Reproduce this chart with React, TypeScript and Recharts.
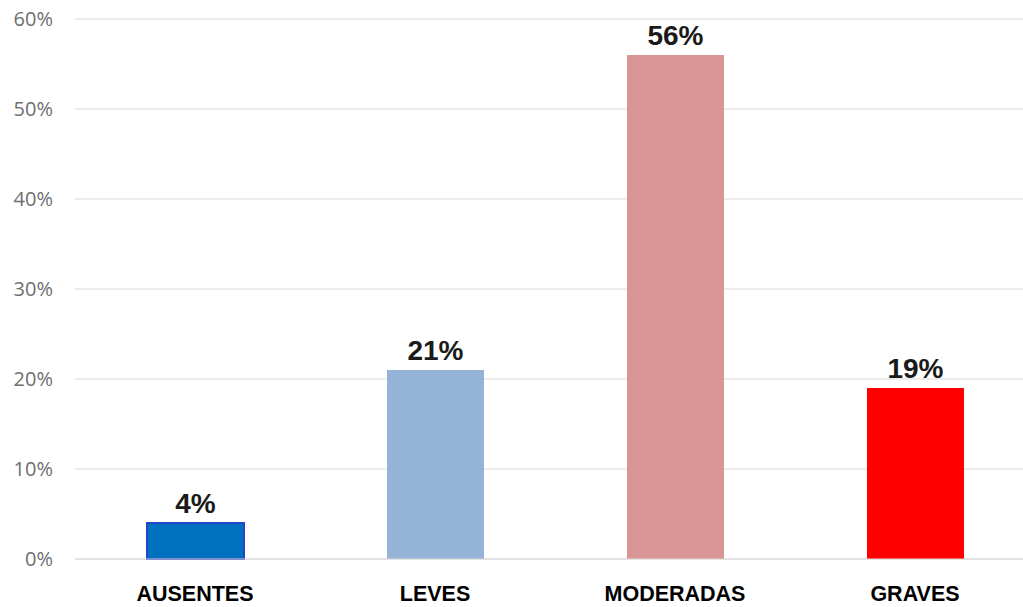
import React from "react";
import { BarChart, Bar, XAxis, YAxis, CartesianGrid, Cell, LabelList } from "recharts";

const categories = ["AUSENTES", "LEVES", "MODERADAS", "GRAVES"];
const values = [4, 21, 56, 19];
const colors = ["#0070C0", "#95B3D7", "#DA9694", "#FF0000"];
const strokes = ["#2346C8", "none", "none", "none"];
const yTicks = [0, 10, 20, 30, 40, 50, 60];

const data = categories.map((name, i) => ({ name, value: values[i] }));

const FONT = "'Liberation Sans', Arial, sans-serif";

export default function App() {
  return (
    <div
      style={{
        position: "fixed",
        left: 0,
        top: 0,
        width: 1023,
        height: 607,
        overflow: "hidden",
        background: "#fff",
      }}
    >
      <BarChart
        width={1035}
        height={607}
        data={data}
        margin={{ top: 19, right: 0, bottom: 0, left: 0 }}
        barCategoryGap={0}
      >
        <CartesianGrid vertical={false} stroke="#D9D9D9" strokeWidth={1.2} />
        <XAxis
          dataKey="name"
          height={48}
          axisLine={{ stroke: "#D9D9D9", strokeWidth: 1.2 }}
          tickLine={false}
          tickSize={0}
          tickMargin={27}
          interval={0}
          tick={{ fill: "#000", fontSize: 21.5, fontWeight: 700, fontFamily: FONT }}
        />
        <YAxis
          width={75}
          domain={[0, 60]}
          ticks={yTicks}
          interval={0}
          axisLine={false}
          tickLine={false}
          tickSize={0}
          tickMargin={22}
          tickFormatter={(v: number) => `${v}%`}
          tick={{ fill: "#6F6F6F", fontSize: 20, fontFamily: "'Open Sans', " + FONT }}
        />
        <Bar dataKey="value" barSize={97} isAnimationActive={false}>
          {data.map((d, i) => (
            <Cell
              key={d.name}
              fill={colors[i]}
              stroke={strokes[i]}
              strokeWidth={strokes[i] === "none" ? 0 : 2}
            />
          ))}
          <LabelList
            dataKey="value"
            position="top"
            offset={10}
            formatter={(v: number) => `${v}%`}
            style={{ fill: "#1a1a1a", fontSize: 28, fontWeight: 700, fontFamily: FONT }}
          />
        </Bar>
      </BarChart>
    </div>
  );
}
